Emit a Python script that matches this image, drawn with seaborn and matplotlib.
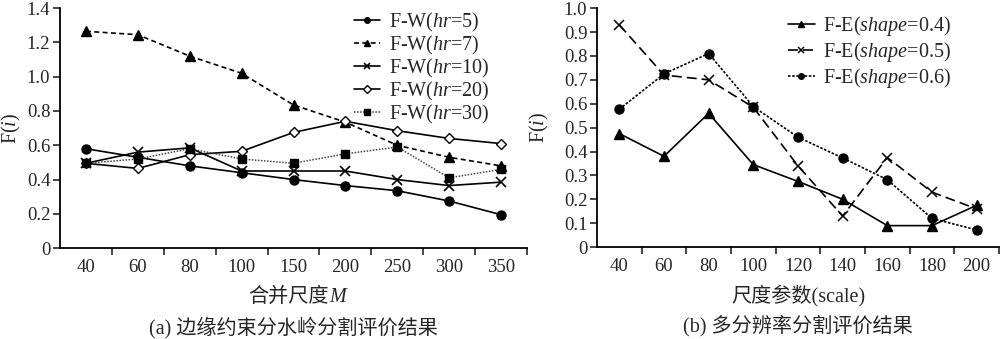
import numpy as np
import pandas as pd
import matplotlib
matplotlib.use("Agg")
import matplotlib.pyplot as plt
import seaborn as sns

# ---------------- data ----------------
m_labels = ["40", "60", "80", "100", "150", "200", "250", "300", "350"]
hr5 = [0.58, 0.53, 0.48, 0.44, 0.40, 0.365, 0.335, 0.275, 0.195]
hr7 = [1.265, 1.245, 1.12, 1.02, 0.835, 0.735, 0.60, 0.53, 0.48]
hr10 = [0.495, 0.56, 0.585, 0.45, 0.45, 0.45, 0.40, 0.365, 0.385]
hr20 = [0.495, 0.465, 0.545, 0.565, 0.675, 0.74, 0.685, 0.64, 0.61]
hr30 = [0.495, 0.52, 0.58, 0.52, 0.495, 0.55, 0.59, 0.41, 0.46]
fw_names = ["F-W($hr$=5)", "F-W($hr$=7)", "F-W($hr$=10)", "F-W($hr$=20)", "F-W($hr$=30)"]

s_labels = ["40", "60", "80", "100", "120", "140", "160", "180", "200"]
sh04 = [0.475, 0.38, 0.56, 0.345, 0.275, 0.20, 0.09, 0.09, 0.175]
sh05 = [0.93, 0.72, 0.70, 0.585, 0.34, 0.13, 0.375, 0.23, 0.16]
sh06 = [0.577, 0.725, 0.81, 0.588, 0.46, 0.373, 0.282, 0.12, 0.072]
fe_names = ["F-E($shape$=0.4)", "F-E($shape$=0.5)", "F-E($shape$=0.6)"]

left_ticks = ["0", "0.2", "0.4", "0.6", "0.8", "1.0", "1.2", "1.4"]
right_ticks = ["0", "0.1", "0.2", "0.3", "0.4", "0.5", "0.6", "0.7", "0.8", "0.9", "1.0"]

# ---------------- style ----------------
sns.set_style("ticks")
plt.rcParams["font.family"] = ["Liberation Serif", "Noto Sans CJK SC"]
plt.rcParams["mathtext.fontset"] = "custom"
plt.rcParams["mathtext.rm"] = "Liberation Serif"
plt.rcParams["mathtext.it"] = "Liberation Serif:italic"
plt.rcParams["axes.unicode_minus"] = False

FS = 13.5      # tick labels
LFS = 14.5     # axis labels / captions / legend

fig = plt.figure(figsize=(10, 3.39), dpi=100)
ax1 = fig.add_axes([0.060, 0.268, 0.467, 0.708])
ax2 = fig.add_axes([0.597, 0.271, 0.402, 0.705])


def draw(ax, xs, ys, name, marker, ms, ls, lw=1.2, mfc="k", color="k", mew=1.0):
    sns.lineplot(x=xs, y=ys, ax=ax, color=color, marker=marker, markersize=ms,
                 linestyle=ls, linewidth=lw, markerfacecolor=mfc,
                 markeredgecolor="k", markeredgewidth=mew, label=name)


x1 = np.arange(len(m_labels))
draw(ax1, x1, hr5, fw_names[0], "o", 6.5, "-")
draw(ax1, x1, hr7, fw_names[1], "^", 7, (0, (3, 2)))
draw(ax1, x1, hr10, fw_names[2], "x", 7, "-", mew=1.2)
draw(ax1, x1, hr20, fw_names[3], "D", 5, "-", mfc="white")
draw(ax1, x1, hr30, fw_names[4], "s", 6, (0, (1, 1)), lw=1.1, color="#444444")

x2 = np.arange(len(s_labels))
draw(ax2, x2, sh04, fe_names[0], "^", 6.5, "-")
draw(ax2, x2, sh05, fe_names[1], "x", 6.5, (0, (6, 3)), mew=1.1)
draw(ax2, x2, sh06, fe_names[2], "o", 6.5, (0, (1.5, 1)))


def style_axis(ax, labels, yticks, ylim, caption, ylabelpad):
    ax.set_xlim(-0.5, len(labels) - 0.5)
    ax.set_ylim(*ylim)
    ax.set_xticks(np.arange(len(labels)))
    ax.set_xticklabels(labels, fontsize=FS)
    ax.set_xticks(np.arange(len(labels)) + 0.5, minor=True)
    ax.tick_params(axis="x", which="major", length=0, pad=8)
    ax.tick_params(axis="x", which="minor", length=5, width=1.2, direction="out")
    yv = [float(t) for t in yticks]
    ax.set_yticks(yv)
    ax.set_yticklabels(yticks, fontsize=FS)
    ax.tick_params(axis="y", length=5, width=1.2, direction="out", pad=2)
    for s in ["top", "right"]:
        ax.spines[s].set_visible(False)
    for s in ["left", "bottom"]:
        ax.spines[s].set_linewidth(1.3)
        ax.spines[s].set_color("k")
    ax.set_ylabel("F($i$)", fontsize=LFS, labelpad=ylabelpad)
    ax.text(0.5, -0.285, caption, transform=ax.transAxes, ha="center", va="top",
            fontsize=LFS)


style_axis(ax1, m_labels, left_ticks, (0, 1.4),
           "(a) 边缘约束分水岭分割评价结果", 3)
style_axis(ax2, s_labels, right_ticks, (0, 1.0),
           "(b) 多分辨率分割评价结果", 9)

# x label of (a): Chinese text followed by an italic serif M
t1 = ax1.text(0.49, -0.165, "合并尺度", transform=ax1.transAxes, ha="center",
              va="top", fontsize=LFS)
ax1.annotate("M", xy=(1.0, 0.02), xycoords=t1, ha="left", va="bottom",
             fontsize=LFS, fontstyle="italic", family="Liberation Serif")
ax2.set_xlabel("尺度参数(scale)", fontsize=LFS, labelpad=7)

leg1 = ax1.legend(loc="upper right", bbox_to_anchor=(0.945, 1.04), frameon=False,
                  fontsize=LFS, handlelength=1.3, handletextpad=0.4, labelspacing=0.0,
                  borderaxespad=0.2)
leg2 = ax2.legend(loc="upper right", bbox_to_anchor=(0.91, 1.025), frameon=False,
                  fontsize=LFS, handlelength=1.3, handletextpad=0.4, labelspacing=0.1,
                  borderaxespad=0.2)
for leg in (leg1, leg2):
    for h in leg.legend_handles:
        h.set_markersize(4)

fig.savefig("out.png", dpi=100)
